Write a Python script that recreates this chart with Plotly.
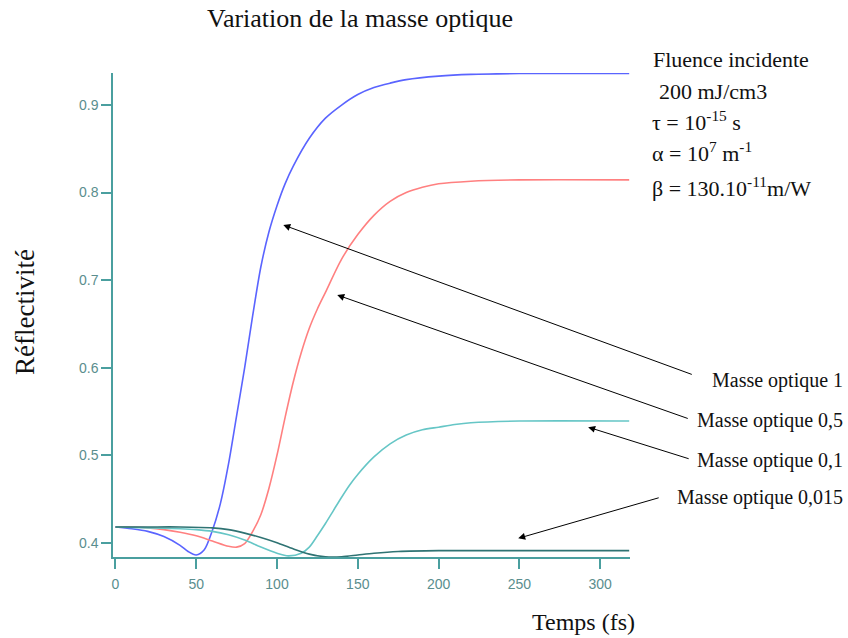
import plotly.graph_objects as go

# ---- data ----
t_blue = [0, 10, 20, 30, 40, 45, 50, 55, 60, 65, 70, 75, 80, 85, 90, 95, 100, 105, 110,
          120, 130, 140, 150, 160, 170, 180, 200, 220, 250, 318]
r_blue = [0.418, 0.416, 0.413, 0.407, 0.397, 0.390, 0.386, 0.392, 0.414, 0.445, 0.490,
          0.545, 0.600, 0.660, 0.715, 0.755, 0.785, 0.810, 0.830, 0.862, 0.885, 0.900,
          0.912, 0.920, 0.925, 0.929, 0.933, 0.935, 0.936, 0.936]

t_red = [0, 10, 20, 30, 40, 50, 60, 70, 75, 80, 85, 90, 95, 100, 105, 110, 115, 120,
         125, 130, 140, 150, 160, 170, 180, 190, 200, 220, 250, 318]
r_red = [0.418, 0.418, 0.417, 0.415, 0.412, 0.408, 0.402, 0.396, 0.395, 0.399, 0.413,
         0.432, 0.462, 0.500, 0.543, 0.583, 0.617, 0.645, 0.667, 0.686, 0.724, 0.752,
         0.774, 0.790, 0.800, 0.806, 0.810, 0.813, 0.8145, 0.8145]

t_cyan = [0, 20, 40, 50, 60, 70, 80, 90, 100, 107, 115, 120, 125, 130, 135, 140, 145,
          150, 160, 170, 180, 190, 200, 210, 220, 250, 318]
r_cyan = [0.418, 0.417, 0.416, 0.415, 0.413, 0.409, 0.403, 0.395, 0.388, 0.385, 0.388,
          0.395, 0.408, 0.422, 0.437, 0.452, 0.466, 0.478, 0.498, 0.513, 0.523, 0.529,
          0.532, 0.535, 0.537, 0.539, 0.539]

t_teal = [0, 20, 40, 60, 70, 80, 90, 100, 110, 120, 130, 140, 150, 160, 175, 200, 318]
r_teal = [0.418, 0.418, 0.418, 0.417, 0.415, 0.411, 0.406, 0.400, 0.393, 0.387, 0.384,
          0.384, 0.386, 0.388, 0.390, 0.391, 0.391]

x_ticks = [0, 50, 100, 150, 200, 250, 300]
y_ticks = [0.4, 0.5, 0.6, 0.7, 0.8, 0.9]

labels = ["Masse optique 1", "Masse optique 0,5", "Masse optique 0,1", "Masse optique 0,015"]

# ---- figure ----
W, H = 848, 638
L, R, T, B = 113, 630, 73, 557


def px(x):
    return (x - L) / (R - L)


def py(y):
    return (B - y) / (B - T)


fig = go.Figure()
series = [
    (t_blue, r_blue, "#5a64ff"),
    (t_red, r_red, "#ff8080"),
    (t_cyan, r_cyan, "#66c6c6"),
    (t_teal, r_teal, "#2f7373"),
]
for tx, ry, col in series:
    fig.add_trace(go.Scatter(x=tx, y=ry, mode="lines",
                             line=dict(color=col, width=1.6, shape="spline", smoothing=0.8),
                             showlegend=False, hoverinfo="skip"))

axis_col = "#4a9f9f"
tick_font = dict(family="Liberation Sans, Arial, sans-serif", size=14, color="#5a8e8e")

fig.update_xaxes(range=[-1.5, 318.5], tickvals=x_ticks, showline=True, linecolor=axis_col,
                 linewidth=1.5, ticks="outside", ticklen=10, tickcolor=axis_col, tickwidth=1.5,
                 showgrid=False, zeroline=False, tickfont=tick_font, ticklabelstandoff=3)
fig.update_yaxes(range=[0.3837, 0.9366], tickvals=y_ticks, tickformat=".1f", showline=True,
                 linecolor=axis_col, linewidth=1.5, ticks="outside", ticklen=10,
                 tickcolor=axis_col, tickwidth=1.5, showgrid=False, zeroline=False,
                 tickfont=tick_font)

serif = "Liberation Serif, Times New Roman, serif"
ann = []
ann.append(dict(text="Variation de la masse optique", x=px(360), y=py(18), xref="paper",
                yref="paper", showarrow=False, font=dict(family=serif, size=26, color="#111"),
                xanchor="center", yanchor="middle"))
ann.append(dict(text="Réflectivité", x=px(25), y=py(312), xref="paper", yref="paper",
                showarrow=False, textangle=-90, font=dict(family=serif, size=27, color="#111"),
                xanchor="center", yanchor="middle"))
ann.append(dict(text="Temps (fs)", x=px(583), y=py(622), xref="paper", yref="paper",
                showarrow=False, font=dict(family=serif, size=24, color="#111"),
                xanchor="center", yanchor="middle"))

info = [
    ("Fluence incidente", 651, 60),
    ("200 mJ/cm3", 657, 91),
    ("τ = 10<sup>-15</sup> s", 650, 121),
    ("α = 10<sup>7</sup> m<sup>-1</sup>", 650, 152),
    ("β = 130.10<sup>-11</sup>m/W", 650, 187),
]
for txt, xx, yy in info:
    ann.append(dict(text=txt, x=px(xx), y=py(yy), xref="paper", yref="paper",
                    showarrow=False, font=dict(family=serif, size=22, color="#111"),
                    xanchor="left", yanchor="middle"))

label_y = [380, 420, 460, 497]
for txt, yy in zip(labels, label_y):
    ann.append(dict(text=txt, x=px(845), y=py(yy), xref="paper", yref="paper",
                    showarrow=False, font=dict(family=serif, size=20, color="#111"),
                    xanchor="right", yanchor="middle"))

# arrows: head at (time, reflectivity), tail offset in pixels
arrows = [
    (103.9, 0.763, 410, 150),
    (137.3, 0.683, 352, 124),
    (292.6, 0.532, 102, 32),
    (249.3, 0.405, 142, -41),
]
for hx, hy, ax, ay in arrows:
    ann.append(dict(x=hx, y=hy, xref="x", yref="y", ax=ax, ay=ay, text="",
                    showarrow=True, arrowhead=2, arrowsize=1.4, arrowwidth=1,
                    arrowcolor="#000"))

fig.update_layout(width=W, height=H, margin=dict(l=L, r=W - R, t=T, b=H - B),
                  plot_bgcolor="white", paper_bgcolor="white", annotations=ann)

fig.write_html("out.html")
